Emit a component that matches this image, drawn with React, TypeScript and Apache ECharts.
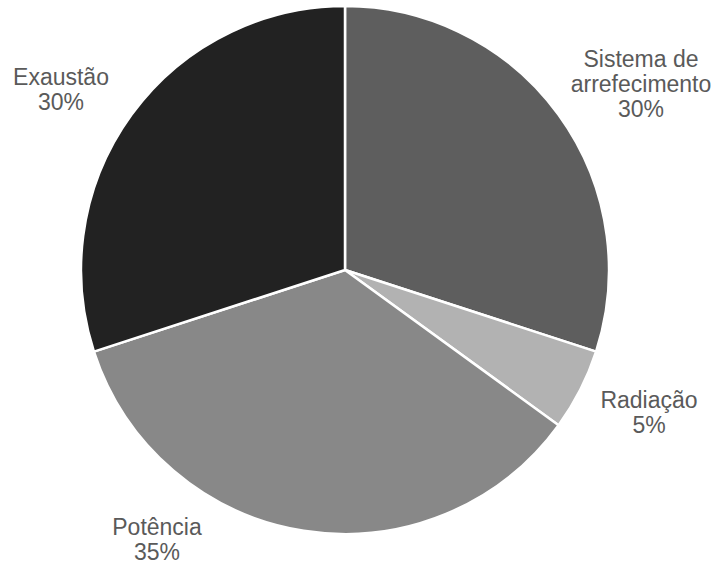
import React, { useEffect, useRef } from "react";
import * as echarts from "echarts";

const categories = ["Sistema de\narrefecimento", "Radiação", "Potência", "Exaustão"];
const values = [30, 5, 35, 30];
const colors = ["#5e5e5e", "#b2b2b2", "#888888", "#222222"];
const labelAnchors: { x: number; y: number }[] = [
  { x: 641, y: 84 },
  { x: 649, y: 412 },
  { x: 157, y: 539 },
  { x: 61, y: 89 },
];

export default function App() {
  const ref = useRef<HTMLDivElement>(null);
  useEffect(() => {
    document.body.style.margin = "0";
    const chart = echarts.init(ref.current!, undefined, { renderer: "svg" });
    chart.setOption({
      animation: false,
      backgroundColor: "#ffffff",
      series: [
        {
          type: "pie",
          center: [345, 270],
          radius: 264,
          startAngle: 90,
          clockwise: true,
          data: categories.map((name, i) => ({
            name,
            value: values[i],
            itemStyle: { color: colors[i] },
          })),
          itemStyle: { borderColor: "#ffffff", borderWidth: 2.5 },
          label: {
            show: true,
            position: "outside",
            formatter: (p: any) => `${p.name}\n${p.value}%`,
            fontFamily: "Liberation Sans, Arial, sans-serif",
            fontSize: 23,
            lineHeight: 25,
            color: "#5a5a5a",
            overflow: "none",
            width: 220,
            align: "center",
          },
          labelLine: { show: false },
          labelLayout: (params: any) => {
            const a = labelAnchors[params.dataIndex];
            return { x: a.x, y: a.y, align: "center", verticalAlign: "middle" };
          },
          emphasis: { disabled: true },
        },
      ],
    });
    return () => chart.dispose();
  }, []);
  return <div ref={ref} style={{ width: 717, height: 567 }} />;
}
